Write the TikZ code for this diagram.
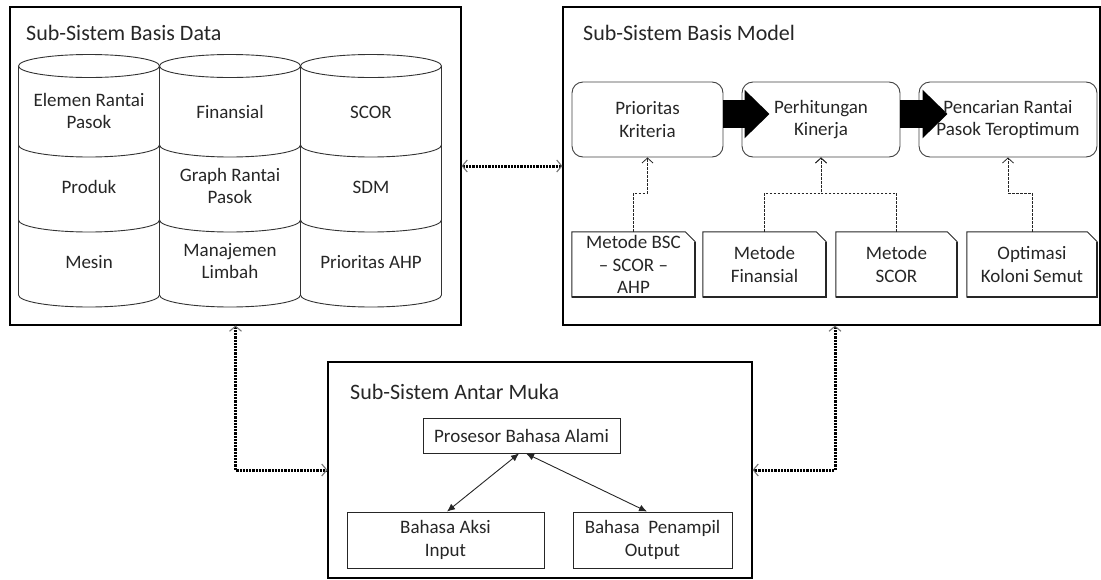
\documentclass[tikz,border=0pt]{standalone}
\usepackage{fontspec}
\setmainfont{Carlito}
\usetikzlibrary{arrows.meta,calc}
\definecolor{txt}{HTML}{262626}
\newcommand\lowarc[3]{(#1-#3,#2) .. controls (#1-#3,#2+6.6) and (#1-0.552*#3,#2+12) .. (#1,#2+12) .. controls (#1+0.552*#3,#2+12) and (#1+#3,#2+6.6) .. (#1+#3,#2)}
\begin{document}
\begin{tikzpicture}[x=1pt,y=-1pt,
  every node/.style={font=\fontsize{19}{22.5}\selectfont, text=txt, align=center, inner sep=0pt},
  titletext/.style={anchor=west, font=\fontsize{22}{26}\selectfont},
  frame/.style={draw=black, line width=1.1pt},
  rbox/.style={draw=black!75, line width=0.9pt, rounded corners=11pt, minimum height=75pt},
  docnode/.style={minimum height=65pt},
  docline/.style={draw=black!85, line width=0.9pt},
  pbox/.style={draw=black!85, line width=0.9pt},
  cyl/.style={draw=black!80, line width=0.9pt},
  dotcon/.style={draw=black, line width=3pt, dash pattern=on 2.2pt off 1pt,
     {Straight Barb[length=5pt,width=12pt,line width=1.1pt,color=black!55]}-{Straight Barb[length=5pt,width=12pt,line width=1.1pt,color=black!55]}},
  dashcon/.style={draw=black!85, line width=0.7pt, dash pattern=on 2.5pt off 1.5pt,
     -{Straight Barb[length=5pt,width=11pt,line width=0.8pt]}},
  solidcon/.style={draw=black!85, line width=0.9pt,
     {Latex[length=8pt,width=7pt]}-{Latex[length=8pt,width=7pt]}},
  blockarrow/.style={draw=black, line width=28pt, -{Triangle[length=25pt,width=47pt]}}
]
\useasboundingbox (0,0) rectangle (1101,579);

% ---------- outer frames ----------
\node[frame, minimum width=451pt, minimum height=318pt] (db) at (235.5,166) {};
\node[frame, minimum width=537pt, minimum height=318pt] (mb) at (831.5,166) {};
\node[frame, minimum width=424pt, minimum height=216pt] (ib) at (540,470) {};

\node[titletext] (tdb) at (26,33) {Sub-Sistem Basis Data};
\node[titletext] (tmb) at (583,33) {Sub-Sistem Basis Model};
\node[titletext] (tib) at (350,392) {Sub-Sistem Antar Muka};

% ---------- cylinders ----------
\foreach \cx in {89,230,371} {
  \draw[cyl] (\cx,66) ellipse [x radius=70.5, y radius=11.5];
  \draw[cyl] (\cx-70.5,66) -- (\cx-70.5,295);
  \draw[cyl] (\cx+70.5,66) -- (\cx+70.5,295);
  \draw[cyl] \lowarc{\cx}{145}{70.5};
  \draw[cyl] \lowarc{\cx}{220}{70.5};
  \draw[cyl] \lowarc{\cx}{295}{70.5};
}
\node (c11) at (89,111) {Elemen Rantai\\Pasok};
\node (c12) at (230,112) {Finansial};
\node (c13) at (371,112) {SCOR};
\node (c21) at (89,187) {Produk};
\node (c22) at (230,186) {Graph Rantai\\Pasok};
\node (c23) at (371,187) {SDM};
\node (c31) at (89,262) {Mesin};
\node (c32) at (230,261) {Manajemen\\Limbah};
\node (c33) at (371,262) {Prioritas AHP};

% ---------- model subsystem ----------
\node[rbox, minimum width=151pt] (p1) at (647.5,119.5) {Prioritas\\Kriteria};
\node[rbox, minimum width=158pt] (p2) at (821,119.5) {};
\node[rbox, minimum width=178pt] (p3) at (1008,119.5) {};

\draw[blockarrow] ($(p1.east)+(0,-5.5)$) -- ($(p2.west)+(28,-5.5)$);
\draw[blockarrow] ($(p2.east)+(0,-5.5)$) -- ($(p3.west)+(29,-5.5)$);
\node (p2t) at (p2.center) {Perhitungan\\Kinerja};
\node (p3t) at (p3.center) {Pencarian Rantai\\Pasok Teroptimum};

\node[docnode, minimum width=123pt] (d1) at (633.5,264.5) {Metode BSC\\– SCOR –\\AHP};
\node[docnode, minimum width=123pt] (d2) at (764.5,264.5) {Metode\\Finansial};
\node[docnode, minimum width=121pt] (d3) at (896.5,264.5) {Metode\\SCOR};
\node[docnode, minimum width=130pt] (d4) at (1032,264.5) {Optimasi\\Koloni Semut};
\foreach \d in {d1,d2,d3,d4} {
  \draw[docline] (\d.south west) -- (\d.north west) -- ([xshift=-10pt]\d.north east)
     -- ([yshift=-10pt]\d.north east) -- (\d.south east) -- cycle;
  \draw[draw=black!85, line width=1.6pt] ([xshift=0.4pt]\d.south west) -- (\d.south east) -- ([yshift=-10pt]\d.north east);
}

\draw[dashcon] (d1.north) -- (d1.north |- 0,193) -| (p1.south);
\draw[dashcon] (d2.north) -- (d2.north |- 0,193) -| (p2.south);
\draw[dashcon] (d3.north) -- (d3.north |- 0,193) -| (p2.south);
\draw[dashcon] (d4.north) -- (d4.north |- 0,193) -| (p3.south);

% ---------- interface subsystem ----------
\node[pbox, minimum width=197pt, minimum height=35pt] (pb) at (521.5,435.5) {Prosesor Bahasa Alami};
\node[pbox, minimum width=197pt, minimum height=56pt] (ba) at (445.5,540) {Bahasa Aksi\\Input};
\node[pbox, minimum width=159pt, minimum height=56pt] (bp) at (652.5,540) {Bahasa~ Penampil\\Output};

\draw[solidcon] ([xshift=1.5pt]ba.north) -- ([xshift=-2.5pt]pb.south);
\draw[solidcon] ([xshift=-5.5pt]bp.north) -- ([xshift=4.5pt]pb.south);

% ---------- dotted connectors between subsystems ----------
\draw[dotcon] (db.east) -- (mb.west);
\draw[dotcon] (db.south) |- (ib.west);
\draw[dotcon] ([xshift=3.5pt]mb.south) |- (ib.east);
\end{tikzpicture}
\end{document}
